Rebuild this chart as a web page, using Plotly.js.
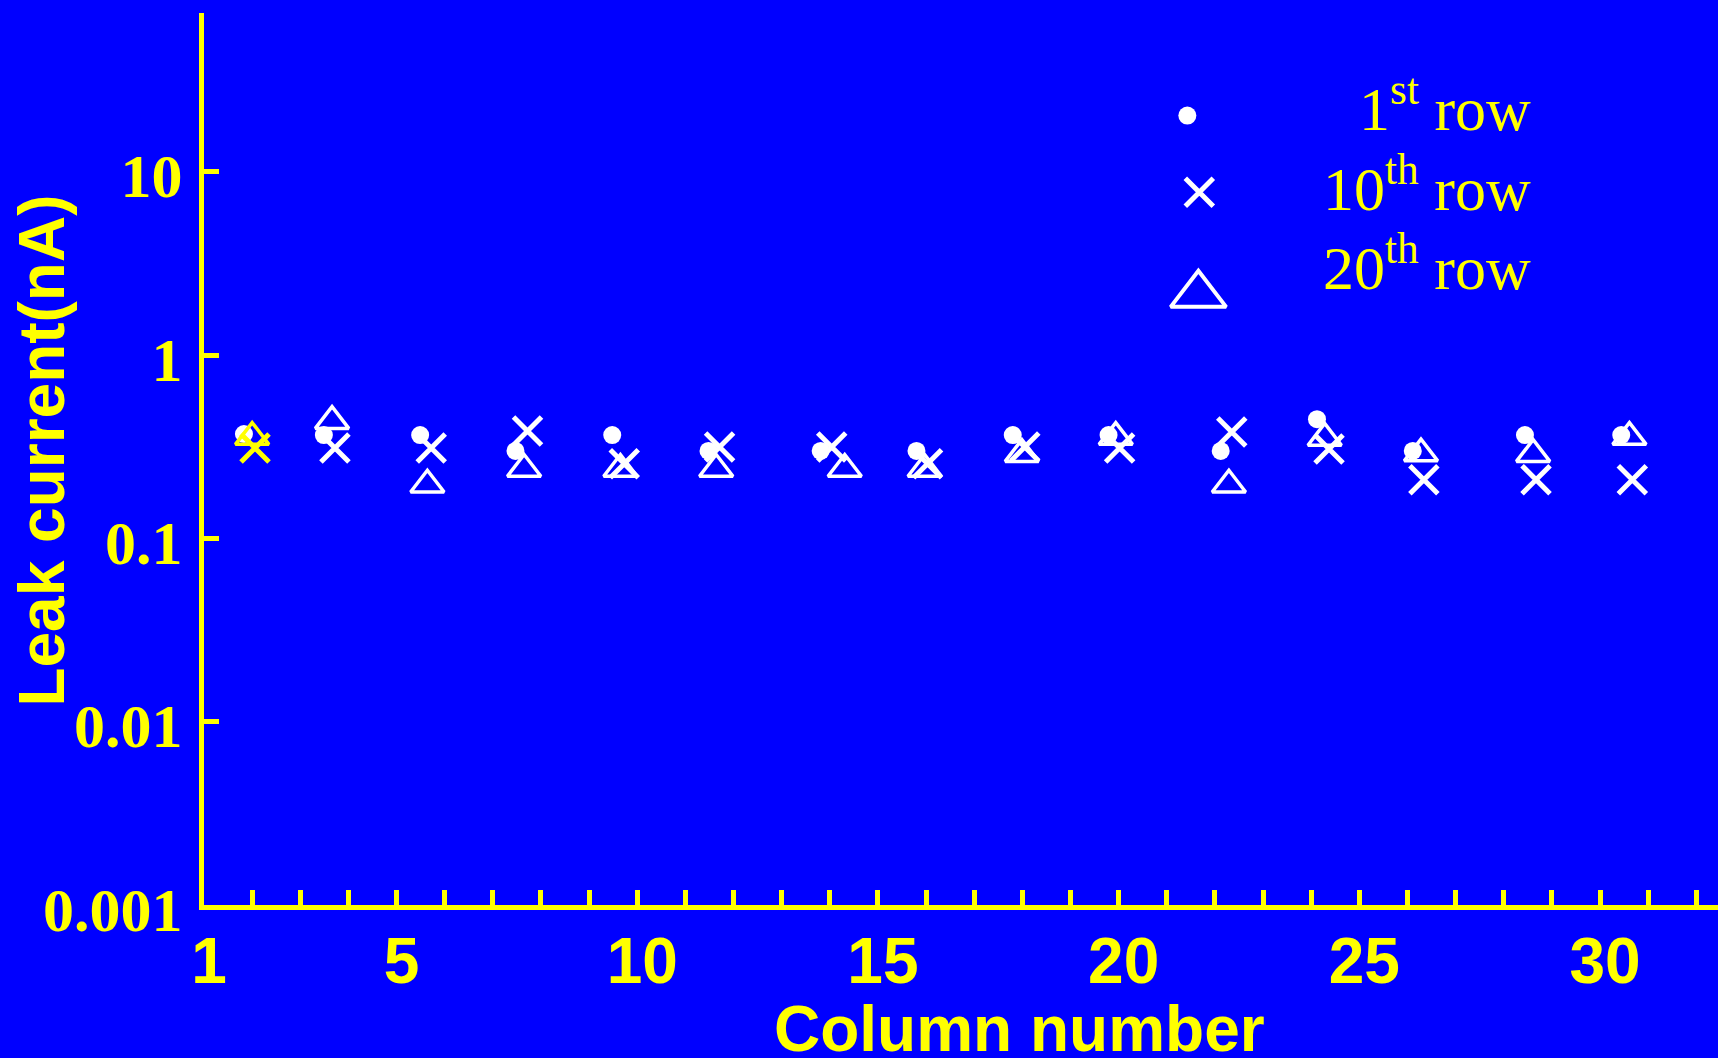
<!DOCTYPE html>
<html>
<head>
<meta charset="utf-8">
<script src="https://cdn.plot.ly/plotly-3.0.1.min.js"></script>
<style>
  html, body { margin: 0; padding: 0; background: #0000ff; }
  #chart { width: 1718px; height: 1058px; }
</style>
</head>
<body>
<div id="chart"></div>
<script>
// ---- Data ----
const seriesNames = ['1<sup>st</sup> row', '10<sup>th</sup> row', '20<sup>th</sup> row'];

const row1Column  = [1.83, 3.49, 5.49, 7.47, 9.48, 11.48, 13.81, 15.80, 17.80, 19.79, 22.12, 24.12, 26.11, 28.44, 30.44];
const row1Leak    = [0.371, 0.366, 0.366, 0.300, 0.366, 0.300, 0.300, 0.300, 0.366, 0.366, 0.300, 0.447, 0.300, 0.366, 0.366];

const row10Column = [2.06, 3.72, 5.72, 7.72, 9.73, 11.71, 14.04, 16.03, 18.05, 20.02, 22.35, 24.37, 26.34, 28.67, 30.67];
const row10Leak   = [0.311, 0.311, 0.311, 0.385, 0.255, 0.315, 0.315, 0.255, 0.315, 0.311, 0.380, 0.307, 0.209, 0.209, 0.209];

const row20Column = [2.00, 3.66, 5.64, 7.65, 9.65, 11.64, 14.31, 15.97, 17.99, 19.94, 22.29, 24.28, 26.28, 28.61, 30.61];
const row20Leak   = [0.357, 0.436, 0.196, 0.239, 0.239, 0.239, 0.239, 0.239, 0.288, 0.357, 0.196, 0.353, 0.290, 0.288, 0.357];

const xTickValues = [1, 5, 10, 15, 20, 25, 30];
const xTickLabels = ['1', '5', '10', '15', '20', '25', '30'];
const yTickValues = [0.001, 0.01, 0.1, 1, 10];
const yTickLabels = ['0.001', '0.01', '0.1', '1', '10'];

// ---- Styles ----
const BLUE = '#0000ff';
const YELLOW = '#ffff00';
const WHITE = '#ffffff';
const SERIF = '"Liberation Serif", "Times New Roman", serif';
const SANS = '"Liberation Sans", Arial, sans-serif';

// first group of crosses / triangles is drawn in yellow in the original
const pointColours = arr => arr.map((_, i) => (i === 0 ? YELLOW : WHITE));

const traces = [
  {
    x: row1Column, y: row1Leak, type: 'scatter', mode: 'markers', name: seriesNames[0],
    marker: { symbol: 'circle', size: 18, color: WHITE, line: { width: 0 } },
    showlegend: false, hoverinfo: 'skip'
  },
  {
    x: row20Column, y: row20Leak, type: 'scatter', mode: 'markers', name: seriesNames[2],
    marker: { symbol: 'triangle-up-open', size: 29, color: pointColours(row20Leak),
              line: { width: 3.5, color: pointColours(row20Leak) } },
    showlegend: false, hoverinfo: 'skip'
  },
  {
    x: row10Column, y: row10Leak, type: 'scatter', mode: 'markers', name: seriesNames[1],
    marker: { symbol: 'x-thin', size: 28, color: pointColours(row10Leak),
              line: { width: 5, color: pointColours(row10Leak) } },
    showlegend: false, hoverinfo: 'skip'
  }
];

// ---- Hand-drawn style legend (overlay axes in 0..1 units) ----
const legendSymbols = ['circle', 'x-thin', 'triangle-up-open'];
const legendSizes = [18, 28, 48];
const legendLineWidths = [0, 5, 4];
const legendMarkX = [0.6495, 0.6574, 0.6568];
const legendMarkY = [0.885, 0.799, 0.684];
const legendTextX = 0.8775;
const legendTextY = [0.898, 0.808, 0.720];

legendSymbols.forEach((sym, i) => {
  traces.push({
    x: [legendMarkX[i]], y: [legendMarkY[i]], xaxis: 'x2', yaxis: 'y2',
    type: 'scatter', mode: 'markers', showlegend: false, hoverinfo: 'skip', cliponaxis: false,
    marker: { symbol: sym, size: legendSizes[i], color: WHITE,
              line: { width: legendLineWidths[i], color: WHITE } }
  });
});

const annotations = seriesNames.map((t, i) => ({
  text: t, xref: 'paper', yref: 'paper', x: legendTextX, y: legendTextY[i],
  xanchor: 'right', yanchor: 'middle', showarrow: false,
  font: { family: SERIF, size: 62, color: YELLOW }
}));

annotations.push({
  text: 'Leak current(nA)', xref: 'paper', yref: 'paper', x: -0.1076, y: 0.5095,
  xanchor: 'center', yanchor: 'middle', textangle: -90, showarrow: false,
  font: { family: SANS, size: 64, color: YELLOW, weight: 700 }
});
annotations.push({
  text: 'Column number', xref: 'paper', yref: 'paper', x: 0.5386, y: -0.096,
  xanchor: 'center', yanchor: 'top', showarrow: false,
  font: { family: SANS, size: 64, color: YELLOW, weight: 700 }
});

const layout = {
  width: 1718, height: 1058,
  paper_bgcolor: BLUE, plot_bgcolor: BLUE,
  margin: { l: 204, r: 0, t: 13, b: 153, pad: 0 },
  showlegend: false,
  xaxis: {
    type: 'linear', range: [1, 32.45], fixedrange: true,
    showgrid: false, zeroline: false,
    showline: true, linecolor: YELLOW, linewidth: 5,
    tickmode: 'array', tickvals: xTickValues, ticktext: xTickLabels,
    ticks: 'inside', ticklen: 0, tickwidth: 5, tickcolor: YELLOW,
    minor: { dtick: 1, tick0: 1, ticks: 'inside', ticklen: 15, tickwidth: 5, tickcolor: YELLOW, showgrid: false },
    tickfont: { family: SANS, size: 64, color: YELLOW, weight: 700 },
    ticklabelstandoff: -4, ticklabelshift: 5
  },
  yaxis: {
    type: 'log', range: [-3, 1.866], fixedrange: true,
    showgrid: false, zeroline: false,
    showline: true, linecolor: YELLOW, linewidth: 5,
    tickmode: 'array', tickvals: yTickValues, ticktext: yTickLabels,
    ticks: 'inside', ticklen: 15, tickwidth: 5, tickcolor: YELLOW,
    tickfont: { family: SERIF, size: 62, color: YELLOW, weight: 700 },
    ticklabelstandoff: 4, ticklabelshift: 4
  },
  xaxis2: { overlaying: 'x', range: [0, 1], visible: false, fixedrange: true },
  yaxis2: { overlaying: 'y', range: [0, 1], visible: false, fixedrange: true },
  annotations: annotations
};

Plotly.newPlot('chart', traces, layout, { staticPlot: true, displayModeBar: false });
</script>
</body>
</html>
